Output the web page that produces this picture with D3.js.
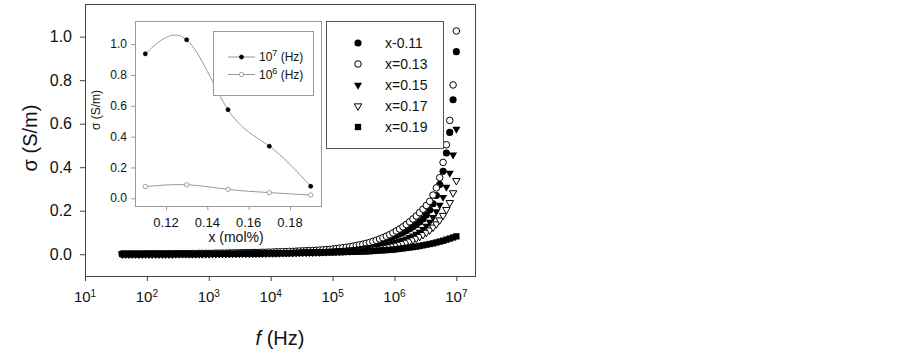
<!DOCTYPE html>
<html>
<head>
<meta charset="utf-8">
<script src="https://cdn.jsdelivr.net/npm/d3@7"></script>
<style>
  body { margin: 0; background: #fff; }
  text { font-family: Arial, "Liberation Sans", sans-serif; fill: #111; }
</style>
</head>
<body>
<div id="chart"></div>
<script>
// frequency sweep, Hz (40 Hz .. 10 MHz)
const freq = [
  40.0, 45.3, 51.3, 58.1, 65.8, 74.5, 84.3, 95.5, 108, 122,
  139, 157, 178, 201, 228, 258, 292, 331, 375, 424,
  481, 544, 616, 698, 790, 895, 1010, 1150, 1300, 1470,
  1670, 1890, 2140, 2420, 2740, 3100, 3510, 3980, 4500, 5100,
  5780, 6540, 7410, 8390, 9500, 10800, 12200, 13800, 15600, 17700,
  20000, 22700, 25700, 29100, 32900, 37300, 42200, 47800, 54100, 61300,
  69400, 78600, 89000, 1.01e5, 1.14e5, 1.29e5, 1.46e5, 1.66e5, 1.88e5, 2.12e5,
  2.41e5, 2.72e5, 3.08e5, 3.49e5, 3.96e5, 4.48e5, 5.07e5, 5.74e5, 6.50e5, 7.37e5,
  8.34e5, 9.44e5, 1.07e6, 1.21e6, 1.37e6, 1.55e6, 1.76e6, 1.99e6, 2.25e6, 2.55e6,
  2.89e6, 3.27e6, 3.71e6, 4.20e6, 4.75e6, 5.38e6, 6.10e6, 6.90e6, 7.82e6, 8.85e6,
  1.00e7
];

// conductivity sigma (S/m) for each composition
const sig011 = [
  0.001,0.001,0.001,0.001,0.001,0.001,0.001,0.001,0.001,0.001,
  0.001,0.001,0.001,0.001,0.002,0.002,0.002,0.002,0.002,0.002,
  0.002,0.002,0.002,0.003,0.003,0.003,0.003,0.003,0.003,0.003,
  0.004,0.004,0.004,0.004,0.004,0.005,0.005,0.005,0.005,0.006,
  0.006,0.006,0.007,0.007,0.007,0.008,0.008,0.009,0.009,0.010,
  0.010,0.011,0.011,0.012,0.013,0.013,0.014,0.015,0.016,0.017,
  0.018,0.019,0.020,0.022,0.023,0.025,0.027,0.029,0.031,0.033,
  0.036,0.038,0.041,0.044,0.048,0.052,0.056,0.060,0.065,0.070,
  0.075,0.080,0.086,0.093,0.100,0.108,0.117,0.126,0.136,0.148,
  0.162,0.180,0.203,0.232,0.270,0.320,0.381,0.465,0.560,0.710,
  0.931
];
const sig013 = [
  0.001,0.001,0.001,0.001,0.001,0.001,0.001,0.002,0.002,0.002,
  0.002,0.002,0.002,0.002,0.002,0.002,0.003,0.003,0.003,0.003,
  0.003,0.003,0.003,0.004,0.004,0.004,0.004,0.004,0.005,0.005,
  0.005,0.005,0.006,0.006,0.006,0.006,0.007,0.007,0.007,0.008,
  0.008,0.008,0.009,0.009,0.010,0.010,0.011,0.011,0.012,0.012,
  0.013,0.013,0.014,0.015,0.015,0.016,0.017,0.017,0.018,0.019,
  0.020,0.021,0.022,0.024,0.026,0.028,0.030,0.032,0.034,0.037,
  0.040,0.043,0.046,0.050,0.054,0.059,0.064,0.070,0.076,0.083,
  0.090,0.098,0.107,0.116,0.126,0.137,0.149,0.162,0.176,0.191,
  0.207,0.224,0.243,0.272,0.305,0.352,0.422,0.503,0.615,0.778,
  1.026
];
const sig015 = [
  0.001,0.001,0.001,0.001,0.001,0.001,0.001,0.001,0.001,0.001,
  0.001,0.001,0.001,0.001,0.001,0.001,0.002,0.002,0.002,0.002,
  0.002,0.002,0.002,0.002,0.002,0.002,0.003,0.003,0.003,0.003,
  0.003,0.003,0.003,0.003,0.004,0.004,0.004,0.004,0.004,0.005,
  0.005,0.005,0.005,0.006,0.006,0.006,0.007,0.007,0.007,0.008,
  0.008,0.008,0.009,0.009,0.010,0.010,0.010,0.011,0.011,0.012,
  0.012,0.013,0.014,0.015,0.016,0.017,0.018,0.019,0.020,0.022,
  0.023,0.025,0.027,0.029,0.031,0.033,0.035,0.038,0.041,0.044,
  0.047,0.051,0.055,0.060,0.065,0.071,0.078,0.085,0.093,0.102,
  0.115,0.130,0.148,0.170,0.196,0.226,0.262,0.309,0.373,0.457,
  0.575
];
const sig017 = [
  0.001,0.001,0.001,0.001,0.001,0.001,0.001,0.001,0.001,0.001,
  0.001,0.001,0.001,0.001,0.001,0.001,0.002,0.002,0.002,0.002,
  0.002,0.002,0.002,0.002,0.002,0.002,0.002,0.002,0.003,0.003,
  0.003,0.003,0.003,0.003,0.003,0.004,0.004,0.004,0.004,0.004,
  0.005,0.005,0.005,0.005,0.006,0.006,0.006,0.006,0.007,0.007,
  0.007,0.007,0.008,0.008,0.008,0.009,0.009,0.009,0.010,0.010,
  0.011,0.011,0.012,0.012,0.013,0.013,0.014,0.015,0.015,0.016,
  0.017,0.018,0.019,0.020,0.021,0.022,0.024,0.026,0.028,0.031,
  0.034,0.037,0.041,0.045,0.049,0.054,0.060,0.066,0.073,0.081,
  0.090,0.100,0.111,0.124,0.139,0.157,0.178,0.205,0.237,0.282,
  0.338
];
const sig019 = [
  0.001,0.001,0.001,0.001,0.001,0.001,0.001,0.001,0.001,0.001,
  0.001,0.001,0.001,0.001,0.001,0.001,0.001,0.001,0.001,0.001,
  0.001,0.001,0.001,0.001,0.001,0.002,0.002,0.002,0.002,0.002,
  0.002,0.002,0.002,0.002,0.002,0.002,0.003,0.003,0.003,0.003,
  0.003,0.003,0.003,0.004,0.004,0.004,0.004,0.005,0.005,0.005,
  0.005,0.006,0.006,0.006,0.007,0.007,0.007,0.007,0.008,0.008,
  0.008,0.009,0.009,0.009,0.010,0.010,0.010,0.011,0.011,0.011,
  0.012,0.012,0.013,0.013,0.014,0.015,0.016,0.017,0.018,0.019,
  0.020,0.021,0.023,0.025,0.027,0.029,0.031,0.033,0.035,0.038,
  0.041,0.044,0.047,0.050,0.054,0.058,0.062,0.067,0.072,0.077,
  0.082
];
const seriesNames = ["x-0.11", "x=0.13", "x=0.15", "x=0.17", "x=0.19"];
const xTicks = [1e1, 1e2, 1e3, 1e4, 1e5, 1e6, 1e7];
const yTicks = [0.0, 0.2, 0.4, 0.6, 0.8, 1.0];

// inset: sigma vs composition at two frequencies
const insetX = [0.11, 0.13, 0.15, 0.17, 0.19];
const inset10M = [0.937, 1.028, 0.575, 0.338, 0.078];
const inset1M = [0.076, 0.088, 0.058, 0.037, 0.021];
const insetXTicks = [0.12, 0.14, 0.16, 0.18];
const insetYTicks = [0.0, 0.2, 0.4, 0.6, 0.8, 1.0];
const insetLegend = ["7", "6"];

const svg = d3.select("#chart")
  .append("svg")
    .attr("width", 902)
    .attr("height", 351);

svg.append("rect").attr("width", 902).attr("height", 351).attr("fill", "#fff");

// main scales
const x = d3.scaleLog().domain([10, 2e7]).range([85, 475]);
const y = d3.scaleLinear().domain([-0.1, 1.15]).range([276, 4]);

// frame
svg.append("rect")
  .attr("x", 85.5).attr("y", 4.5)
  .attr("width", 390).attr("height", 272)
  .attr("fill", "none").attr("stroke", "#444");

// x axis ticks
const xAxis = svg.append("g")
  .attr("transform", "translate(0,276)")
  .call(d3.axisBottom(x).tickValues(xTicks).tickSize(5).tickSizeOuter(0).tickFormat(""));
xAxis.select(".domain").remove();
xAxis.selectAll("line").attr("stroke", "#444");

const xLab = svg.append("g").selectAll("text")
  .data(xTicks)
  .enter().append("text")
    .attr("x", d => x(d))
    .attr("y", 302)
    .attr("text-anchor", "middle")
    .style("font-size", "15px");
xLab.append("tspan").text("10");
xLab.append("tspan")
  .attr("dy", -5)
  .style("font-size", "10px")
  .text(d => Math.round(Math.log10(d)));

// y axis ticks
const yAxis = svg.append("g")
  .attr("transform", "translate(85,0)")
  .call(d3.axisLeft(y).tickValues(yTicks).tickSize(5).tickSizeOuter(0).tickFormat(""));
yAxis.select(".domain").remove();
yAxis.selectAll("line").attr("stroke", "#444");

svg.append("g").selectAll("text")
  .data(yTicks)
  .enter().append("text")
    .attr("x", 72)
    .attr("y", d => y(d))
    .attr("dy", "0.35em")
    .attr("text-anchor", "end")
    .style("font-size", "16px")
    .text(d => d.toFixed(1));

// axis titles
svg.append("text")
  .attr("transform", "translate(30,138) rotate(-90)")
  .attr("text-anchor", "middle")
  .attr("dy", "0.35em")
  .style("font-size", "20px")
  .text("σ (S/m)");

const xTitle = svg.append("text")
  .attr("x", 280)
  .attr("y", 345)
  .attr("text-anchor", "middle")
  .style("font-size", "20px");
xTitle.append("tspan").style("font-style", "italic").text("f");
xTitle.append("tspan").text(" (Hz)");

// markers for each series
const series = [
  {name: seriesNames[0], values: sig011, type: d3.symbolCircle, size: 40, rot: 0, open: false},
  {name: seriesNames[1], values: sig013, type: d3.symbolCircle, size: 34, rot: 0, open: true},
  {name: seriesNames[2], values: sig015, type: d3.symbolTriangle, size: 28, rot: 180, open: false},
  {name: seriesNames[3], values: sig017, type: d3.symbolTriangle, size: 24, rot: 180, open: true},
  {name: seriesNames[4], values: sig019, type: d3.symbolSquare, size: 40, rot: 0, open: false}
];

function marker(sel, s) {
  sel.attr("d", d3.symbol().type(s.type).size(s.size)())
    .attr("fill", s.open ? "#fff" : "#000")
    .attr("stroke", s.open ? "#000" : "none")
    .attr("stroke-width", 1);
}

series.forEach(function(s) {
  svg.append("g").selectAll("path")
    .data(s.values)
    .enter().append("path")
      .attr("transform", (d, i) => "translate(" + x(freq[i]) + "," + y(d) + ") rotate(" + s.rot + ")")
      .call(marker, s);
});

// main legend
svg.append("rect")
  .attr("x", 326.5).attr("y", 21.5)
  .attr("width", 117).attr("height", 127)
  .attr("fill", "#fff").attr("stroke", "#555");

series.forEach(function(s, i) {
  const ly = 43 + i * 21;
  svg.append("path")
    .attr("transform", "translate(358," + ly + ") rotate(" + s.rot + ")")
    .call(marker, s);
  svg.append("text")
    .attr("x", 385)
    .attr("y", ly + 5)
    .style("font-size", "14px")
    .text(s.name);
});

// ---------- inset ----------
const xi = d3.scaleLinear().domain([0.105, 0.195]).range([135, 321]);
const yi = d3.scaleLinear().domain([-0.05, 1.15]).range([206, 21]);

svg.append("rect")
  .attr("x", 135.5).attr("y", 21.5)
  .attr("width", 186).attr("height", 185)
  .attr("fill", "#fff").attr("stroke", "#999");

const xiAxis = svg.append("g")
  .attr("transform", "translate(0,206)")
  .call(d3.axisBottom(xi).tickValues(insetXTicks).tickSize(4).tickSizeOuter(0).tickFormat(""));
xiAxis.select(".domain").remove();
xiAxis.selectAll("line").attr("stroke", "#999");

const yiAxis = svg.append("g")
  .attr("transform", "translate(135,0)")
  .call(d3.axisLeft(yi).tickValues(insetYTicks).tickSize(4).tickSizeOuter(0).tickFormat(""));
yiAxis.select(".domain").remove();
yiAxis.selectAll("line").attr("stroke", "#999");

svg.append("g").selectAll("text")
  .data(insetXTicks)
  .enter().append("text")
    .attr("x", d => xi(d))
    .attr("y", 227)
    .attr("text-anchor", "middle")
    .style("font-size", "13px")
    .text(d => d.toFixed(2));

svg.append("g").selectAll("text")
  .data(insetYTicks)
  .enter().append("text")
    .attr("x", 127)
    .attr("y", d => yi(d))
    .attr("dy", "0.35em")
    .attr("text-anchor", "end")
    .style("font-size", "12px")
    .text(d => d.toFixed(1));

svg.append("text")
  .attr("transform", "translate(96,110) rotate(-90)")
  .attr("text-anchor", "middle")
  .attr("dy", "0.35em")
  .style("font-size", "12px")
  .text("σ (S/m)");

svg.append("text")
  .attr("x", 236)
  .attr("y", 242)
  .attr("text-anchor", "middle")
  .style("font-size", "14px")
  .text("x (mol%)");

const lineI = d3.line()
  .curve(d3.curveNatural)
  .x((d, i) => xi(insetX[i]))
  .y(d => yi(d));

const insetSeries = [
  {values: inset10M, fill: "#000", stroke: "#000", r: 2},
  {values: inset1M, fill: "#fff", stroke: "#888", r: 2.2}
];

insetSeries.forEach(function(s) {
  svg.append("path")
    .datum(s.values)
    .attr("fill", "none")
    .attr("stroke", "#999")
    .attr("stroke-width", 1)
    .attr("d", lineI);
  svg.append("g").selectAll("circle")
    .data(s.values)
    .enter().append("circle")
      .attr("cx", (d, i) => xi(insetX[i]))
      .attr("cy", d => yi(d))
      .attr("r", s.r)
      .attr("fill", s.fill)
      .attr("stroke", s.stroke)
      .attr("stroke-width", 0.8);
});

// inset legend
svg.append("rect")
  .attr("x", 213.5).attr("y", 31.5)
  .attr("width", 100).attr("height", 64)
  .attr("fill", "#fff").attr("stroke", "#999");

insetSeries.forEach(function(s, i) {
  const ly = 57 + i * 17.5;
  svg.append("line")
    .attr("x1", 228).attr("x2", 255)
    .attr("y1", ly).attr("y2", ly)
    .attr("stroke", "#999");
  svg.append("circle")
    .attr("cx", 241.5).attr("cy", ly)
    .attr("r", s.r)
    .attr("fill", s.fill)
    .attr("stroke", s.stroke)
    .attr("stroke-width", 0.8);
  const t = svg.append("text")
    .attr("x", 259)
    .attr("y", ly + 4)
    .style("font-size", "12px");
  t.append("tspan").text("10");
  t.append("tspan").attr("dy", -5).style("font-size", "9px").text(insetLegend[i]);
  t.append("tspan").attr("dy", 5).text(" (Hz)");
});
</script>
</body>
</html>
